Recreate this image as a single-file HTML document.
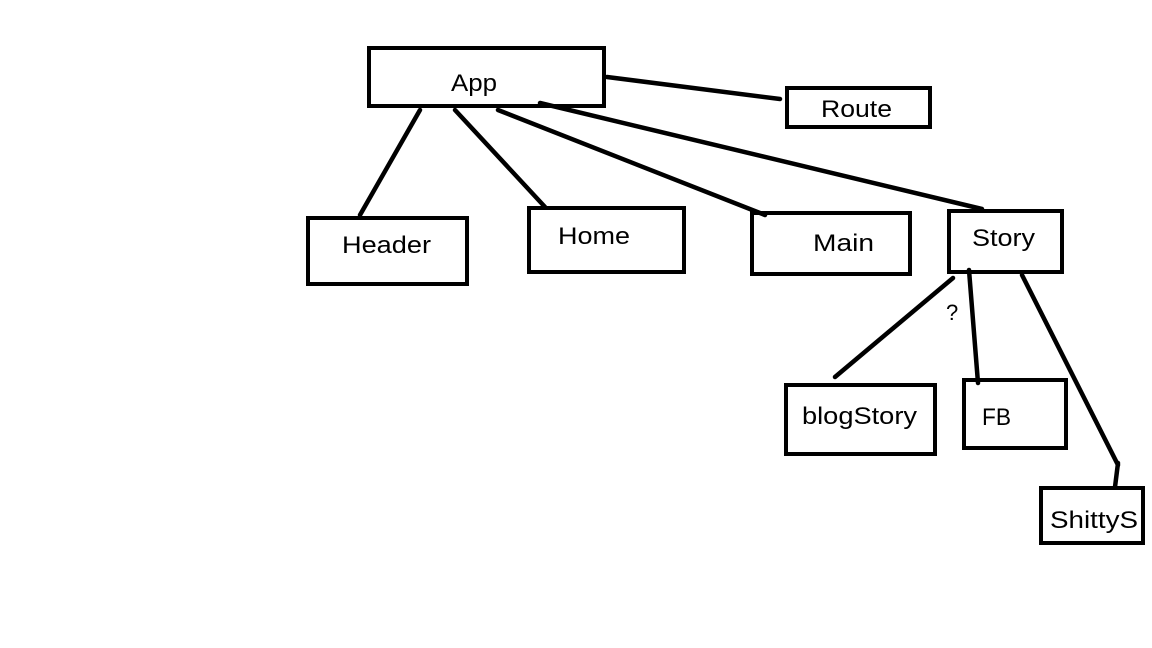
<!DOCTYPE html>
<html><head><style>html,body{margin:0;padding:0;background:#fff}svg{display:block}</style></head>
<body>
<svg width="1152" height="648" viewBox="0 0 1152 648" xmlns="http://www.w3.org/2000/svg">
<rect width="1152" height="648" fill="#fff"/>
<g fill="none" stroke="#000" stroke-width="4" stroke-linecap="round">
<rect x="369" y="48" width="235" height="58"/>
<rect x="787" y="88" width="143" height="39"/>
<rect x="308" y="218" width="159" height="66"/>
<rect x="529" y="208" width="155" height="64"/>
<rect x="752" y="213" width="158" height="61"/>
<rect x="949" y="211" width="113" height="61"/>
<rect x="786" y="385" width="149" height="69"/>
<rect x="964" y="380" width="102" height="68"/>
<rect x="1041" y="488" width="102" height="55"/>
</g>
<g fill="none" stroke="#000" stroke-width="4.5" stroke-linecap="round">
<line x1="607" y1="77" x2="780" y2="99"/>
<line x1="420" y1="110" x2="360" y2="215"/>
<line x1="455" y1="110" x2="545" y2="207"/>
<line x1="498" y1="110" x2="765" y2="215"/>
<line x1="540" y1="103" x2="982" y2="209"/>
<line x1="953" y1="278" x2="835" y2="377"/>
<line x1="969" y1="270" x2="978" y2="383"/>
<line x1="1022" y1="275" x2="1118" y2="465"/>
<line x1="1118" y1="463" x2="1115" y2="487"/>
</g>
<g font-family="Liberation Sans, sans-serif" font-size="24" fill="#000" lengthAdjust="spacingAndGlyphs">
<text x="451" y="91" textLength="46" lengthAdjust="spacingAndGlyphs">App</text>
<text x="821" y="117" textLength="71" lengthAdjust="spacingAndGlyphs">Route</text>
<text x="342" y="253" textLength="89" lengthAdjust="spacingAndGlyphs">Header</text>
<text x="558" y="244" textLength="72" lengthAdjust="spacingAndGlyphs">Home</text>
<text x="813" y="251" textLength="61" lengthAdjust="spacingAndGlyphs">Main</text>
<text x="972" y="246" textLength="63" lengthAdjust="spacingAndGlyphs">Story</text>
<text x="802" y="424" textLength="115" lengthAdjust="spacingAndGlyphs">blogStory</text>
<text x="982" y="425" textLength="29" lengthAdjust="spacingAndGlyphs">FB</text>
<text x="1050" y="528" textLength="88" lengthAdjust="spacingAndGlyphs">ShittyS</text>
<text x="946" y="320" font-size="22">?</text>
</g>
</svg>
</body></html>
